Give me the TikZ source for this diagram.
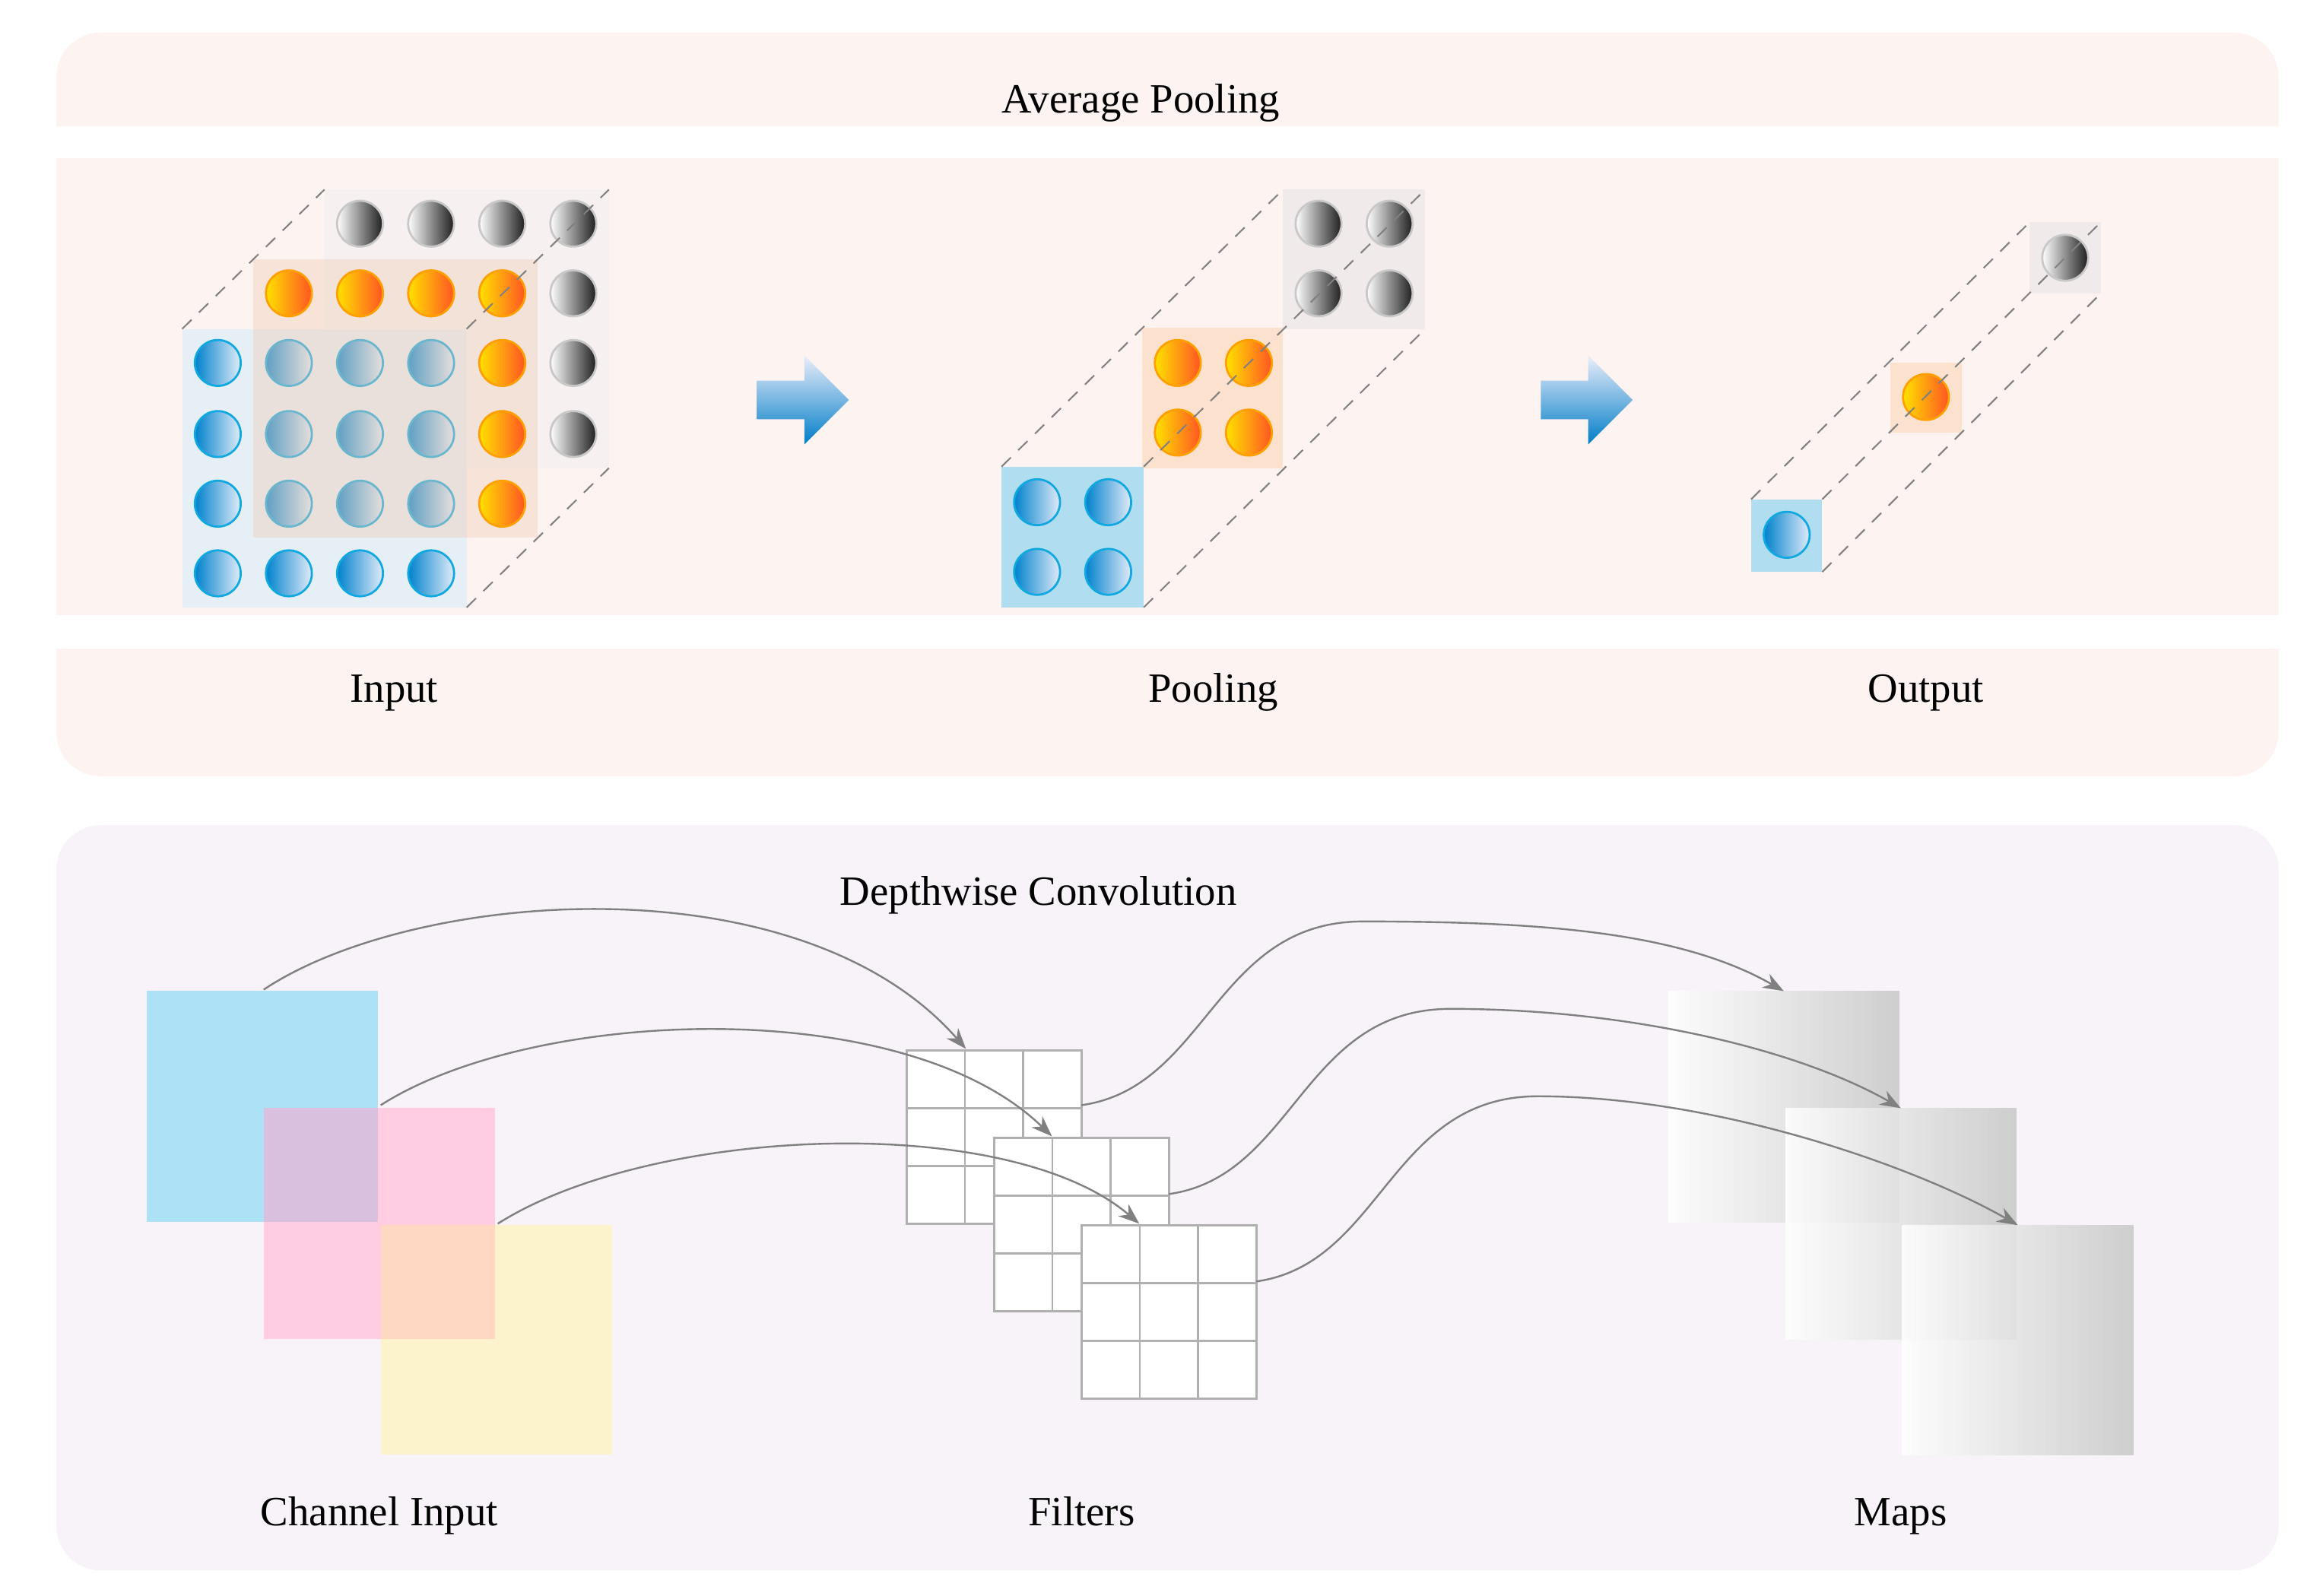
\documentclass[tikz,border=0pt]{standalone}
\usepackage{fontspec}
\setmainfont{Liberation Serif}
\usetikzlibrary{arrows.meta}
\definecolor{pinkbg}{HTML}{FDF3F1}
\definecolor{lavbg}{HTML}{F7F3F9}
\definecolor{bB}{RGB}{16,168,224}\definecolor{bL}{RGB}{0,130,205}\definecolor{bR}{RGB}{225,235,248}
\definecolor{oB}{RGB}{255,160,0}\definecolor{oL}{RGB}{255,225,0}\definecolor{oR}{RGB}{255,85,35}
\definecolor{gB}{RGB}{200,200,200}\definecolor{gR}{RGB}{30,30,30}
\definecolor{cG1}{RGB}{246,240,240}\definecolor{cB1}{RGB}{230,238,246}\definecolor{cO1}{RGB}{240,205,180}
\definecolor{cG2}{RGB}{240,234,234}\definecolor{cO2}{RGB}{252,226,206}\definecolor{cB2}{RGB}{176,221,240}
\definecolor{sqB}{RGB}{173,225,245}\definecolor{sqP}{RGB}{255,204,225}\definecolor{sqBP}{RGB}{216,192,222}
\definecolor{sqY}{RGB}{252,242,204}\definecolor{sqPY}{RGB}{255,216,196}
\definecolor{lnG}{RGB}{128,128,128}\definecolor{grG}{RGB}{176,176,176}\definecolor{mpG}{RGB}{200,200,200}
\definecolor{arT}{RGB}{235,238,250}\definecolor{arB}{RGB}{0,125,200}
\begin{document}
\begin{tikzpicture}[x=0.02cm,y=-0.02cm,
  lbl/.style={font=\fontsize{16}{19}\selectfont,anchor=base,inner sep=0pt},
  ballB/.style={draw=bB,line width=0.8pt,left color=bL,right color=bR},
  ballO/.style={draw=oB,line width=0.8pt,left color=oL,right color=oR},
  ballG/.style={draw=gB,line width=0.8pt,left color=white,right color=gR},
  dashln/.style={draw=gray,line width=0.6pt,dash pattern=on 5pt off 4pt},
  conn/.style={draw=lnG,line width=0.7pt,-{Stealth[length=8pt,width=6pt]}},
  grid/.style={draw=grG,line width=0.8pt,fill=white},
  mapsq/.style={left color=white,right color=mpG,fill opacity=0.85},
  barrow/.style={top color=arT,bottom color=arB}]
\newcommand{\myball}[3]{\path[#3] (#1,#2) circle (0.31cm);}
\useasboundingbox (0,0) rectangle (1568,1077);
% top panel
\begin{scope}\clip (38,22) rectangle (1538,85);
\fill[pinkbg,rounded corners=0.6cm] (38,22) rectangle (1538,200);\end{scope}
\fill[pinkbg] (38,107) rectangle (1538,415);
\begin{scope}\clip (38,438) rectangle (1538,524);
\fill[pinkbg,rounded corners=0.6cm] (38,350) rectangle (1538,524);\end{scope}
\node[lbl] (t1) at (770,76) {Average Pooling};
\node[lbl] (l1) at (266,474) {Input};
\node[lbl] (l2) at (819,474) {Pooling};
\node[lbl] (l3) at (1300,474) {Output};
% input cube
\fill[cG1] (219,128) rectangle (411,316);
\foreach \x in {243,291,339,387}{\foreach \y in {151,198,245,293}{\myball{\x}{\y}{ballG}}}
\fill[cB1] (123,222) rectangle (315,410);
\foreach \x in {147,195,243,291}{\foreach \y in {245,293,340,387}{\myball{\x}{\y}{ballB}}}
\fill[cO1,opacity=0.4] (171,175) rectangle (363,363);
\foreach \x in {195,243,291,339}{\myball{\x}{198}{ballO}}
\foreach \y in {245,293,340}{\myball{339}{\y}{ballO}}
\draw[dashln] (123,222) -- (219,128);
\draw[dashln] (315,222) -- (411,128);
\draw[dashln] (315,410) -- (411,316);
% block arrows
\foreach \ax in {511,1040}{
\path[barrow] (\ax,257) -- (\ax+32,257) -- (\ax+32,240) -- (\ax+62,270) -- (\ax+32,300) -- (\ax+32,283) -- (\ax,283) -- cycle;}
% pooling
\fill[cG2] (866,128) rectangle (962,222);
\foreach \x in {890,938}{\foreach \y in {151,198}{\myball{\x}{\y}{ballG}}}
\fill[cO2] (771,221) rectangle (866,316);
\foreach \x in {795,843}{\foreach \y in {245,292}{\myball{\x}{\y}{ballO}}}
\fill[cB2] (676,315) rectangle (772,410);
\foreach \x in {700,748}{\foreach \y in {339,386}{\myball{\x}{\y}{ballB}}}
\draw[dashln] (676,315) -- (866,128);
\draw[dashln] (772,315) -- (962,128);
\draw[dashln] (772,410) -- (962,222);
% output
\fill[cG2] (1370,150) rectangle (1418,198);
\myball{1394}{174}{ballG}
\fill[cO2] (1276,245) rectangle (1324,292);
\myball{1300}{268}{ballO}
\fill[cB2] (1182,337) rectangle (1230,386);
\myball{1206}{361}{ballB}
\draw[dashln] (1182,337) -- (1370,150);
\draw[dashln] (1230,337) -- (1418,150);
\draw[dashln] (1230,386) -- (1418,198);
% bottom panel
\fill[lavbg,rounded corners=0.6cm] (38,557) rectangle (1538,1060);
\node[lbl] (t2) at (701,611) {Depthwise Convolution};
\node[lbl] (l4) at (256,1030) {Channel Input};
\node[lbl] (l5) at (730,1030) {Filters};
\node[lbl] (l6) at (1283,1030) {Maps};
% channel input
\fill[sqB] (99,669) rectangle (255,825);
\fill[sqP] (178,748) rectangle (334,904);
\fill[sqBP] (178,748) rectangle (255,825);
\fill[sqY] (257,827) rectangle (413,982);
\fill[sqPY] (257,827) rectangle (334,904);
% filters
\foreach \gx/\gy in {612/709,671/768,730/827}{
\path[grid] (\gx,\gy) rectangle +(118,117);
\foreach \k in {1,2}{\draw[grid] (\gx+\k*39.3,\gy) -- +(0,117); \draw[grid] (\gx,\gy+\k*39) -- +(118,0);}}
% maps
\path[mapsq] (1126,669) rectangle (1282,825);
\path[mapsq] (1205,748) rectangle (1361,904);
\path[mapsq] (1284,827) rectangle (1440,982);
% connectors
\coordinate (c1) at (178,668); \coordinate (f1) at (652,708);
\coordinate (c2) at (257,746); \coordinate (f2) at (710,767);
\coordinate (c3) at (336,826); \coordinate (f3) at (769,826);
\coordinate (g1) at (730,746); \coordinate (m1) at (1204,669);
\coordinate (g2) at (789,806); \coordinate (m2) at (1283,748);
\coordinate (g3) at (848,865); \coordinate (m3) at (1362,827);
\coordinate (p1) at (920,622); \coordinate (p2) at (979,681); \coordinate (p3) at (1038,740);
\draw[conn] (c1) .. controls (280,600) and (540,580) .. (f1);
\draw[conn] (c2) .. controls (360,680) and (610,670) .. (f2);
\draw[conn] (c3) .. controls (440,760) and (680,750) .. (f3);
\foreach \i in {1,2,3}{
\draw[conn] (g\i) .. controls +(85,-12) and +(-100,0) .. (p\i) .. controls +(120,0) and +(-70,-40) .. (m\i);}
\end{tikzpicture}
\end{document}
